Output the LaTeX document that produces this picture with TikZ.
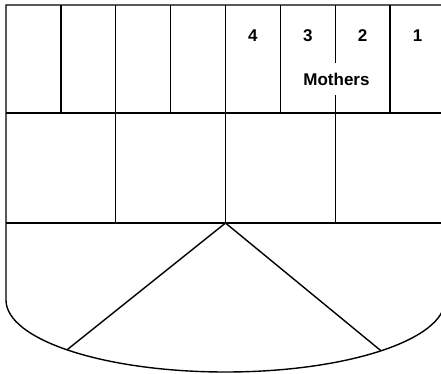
\documentclass[tikz,border=0pt]{standalone}
\usepackage{fontspec}
\setmainfont{Liberation Sans}[BoldFont={Liberation Sans Bold}]
\usepackage{tikz}
\usepackage{xcolor}

\begin{document}
\begin{tikzpicture}[x=1pt, y=-1pt,
  ln/.style  = {line width=1.4pt, color=black},
  num/.style = {font=\bfseries\fontsize{17}{19}\selectfont, inner sep=1pt},
  lbl/.style = {num, fill=white, inner xsep=3pt, inner ysep=10pt}
]
\useasboundingbox (0,0) rectangle (441,374);
\clip (0,0) rectangle (441,374);
% outline with the rounded bottom
\draw[ln] (445,5) -- (6,5) -- (6,300)
  arc[start angle=180, end angle=360, x radius=219.5pt, y radius=72pt]
  -- (445,5);
\draw[ln] (6,113) -- (445,113);
\draw[ln] (6,223) -- (445,223);
% top row, eight cells
\foreach \i in {1,...,7}
  \draw[ln] ({6+54.875*\i},5) -- ({6+54.875*\i},113);
% middle row, four cells
\foreach \i in {1,2,3}
  \draw[ln] ({6+109.75*\i},113) -- ({6+109.75*\i},223);
% the triangle
\coordinate (apex) at (225.5,223);
\coordinate (lf) at (67,349.8);
\coordinate (rf) at (381,350.8);
\draw[ln] (lf) -- (apex) -- (rf);
\node[num] (n4) at (252.9,35.5) {4};
\node[num] (n3) at (307.8,35.5) {3};
\node[num] (n2) at (362.7,35.5) {2};
\node[num] (n1) at (417.6,35.5) {1};
\node[lbl] (mothers) at (336.5,79) {Mothers};
\end{tikzpicture}
\end{document}
